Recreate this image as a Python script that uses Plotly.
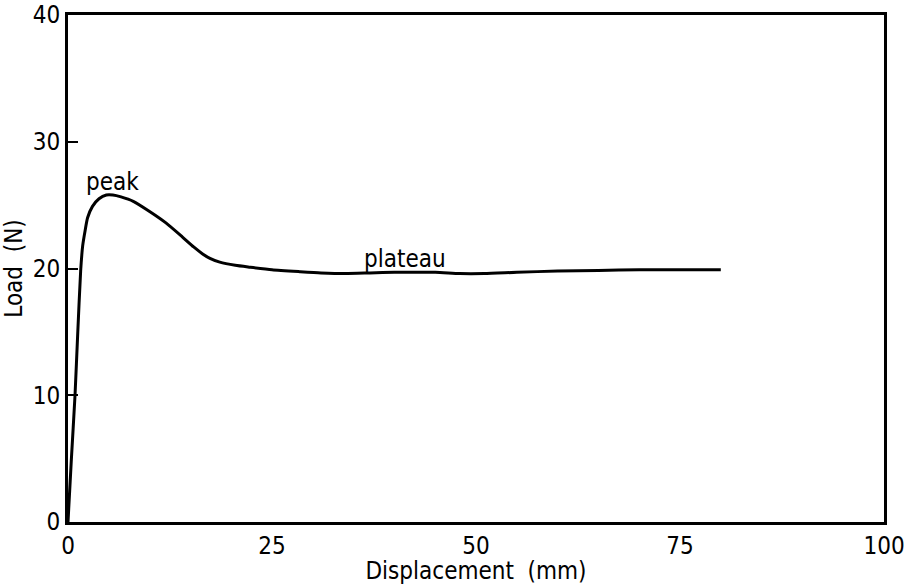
import plotly.graph_objects as go

# Data
displacement_mm = [0, 0.4, 0.86, 1.2, 1.55, 1.8, 2.1, 2.4, 3.0, 3.8, 4.7, 5.5, 6.5,
                   8.0, 10.0, 12.0, 14.0, 15.4, 16.5, 17.4, 18.6, 20.5, 22.3, 25.0, 28.4,
                   31.0, 34.0, 37.0, 40.0, 45.0, 48.0, 51.0, 55.0, 60.0, 65.0, 70.0, 75.0, 80.0]
load_N = [0, 4.8, 10.0, 15.0, 19.8, 21.8, 23.0, 24.0, 24.9, 25.5, 25.8, 25.8, 25.65,
          25.3, 24.5, 23.6, 22.5, 21.7, 21.15, 20.8, 20.5, 20.25, 20.1, 19.9, 19.75,
          19.65, 19.6, 19.65, 19.7, 19.7, 19.6, 19.6, 19.7, 19.8, 19.85, 19.9, 19.9, 19.9]

x_ticks = [0, 25, 50, 75, 100]
y_ticks = [0, 10, 20, 30, 40]

annotations_text = ["peak", "plateau"]
annotations_x = [5.4, 41.3]
annotations_y = [26.8, 20.75]

FONT = "DejaVu Sans Condensed, Liberation Sans Narrow, Liberation Sans, Arial"

fig = go.Figure()
fig.add_trace(go.Scatter(
    x=displacement_mm, y=load_N, mode="lines",
    line=dict(color="black", width=3, shape="spline", smoothing=0.6),
    showlegend=False, hoverinfo="skip",
))

for t, ax_, ay_ in zip(annotations_text, annotations_x, annotations_y):
    fig.add_annotation(x=ax_, y=ay_, text=t, showarrow=False,
                       font=dict(family=FONT, size=24, color="black"))

fig.update_layout(
    width=910, height=585,
    margin=dict(l=68, r=26, t=15, b=63),
    paper_bgcolor="white", plot_bgcolor="white",
    font=dict(family=FONT, size=24, color="black"),
)
fig.update_xaxes(
    range=[0, 100], tickvals=x_ticks, ticktext=[str(v) for v in x_ticks],
    tickfont=dict(family=FONT, size=24, color="black"),
    showgrid=False, zeroline=False, showline=True, linecolor="black", linewidth=3,
    mirror=True, ticks="", automargin=False,
    title=dict(text="Displacement  (mm)", standoff=0,
               font=dict(family=FONT, size=24, color="black")),
)
fig.update_yaxes(
    range=[0, 40], tickvals=y_ticks, ticktext=[str(v) for v in y_ticks],
    tickfont=dict(family=FONT, size=24, color="black"),
    showgrid=False, zeroline=False, showline=True, linecolor="black", linewidth=3,
    mirror=True, ticks="inside", ticklen=10, tickwidth=2, tickcolor="black",
    automargin=False,
    title=dict(text="Load  (N)", standoff=4,
               font=dict(family=FONT, size=24, color="black")),
)

fig.write_html("out.html")
